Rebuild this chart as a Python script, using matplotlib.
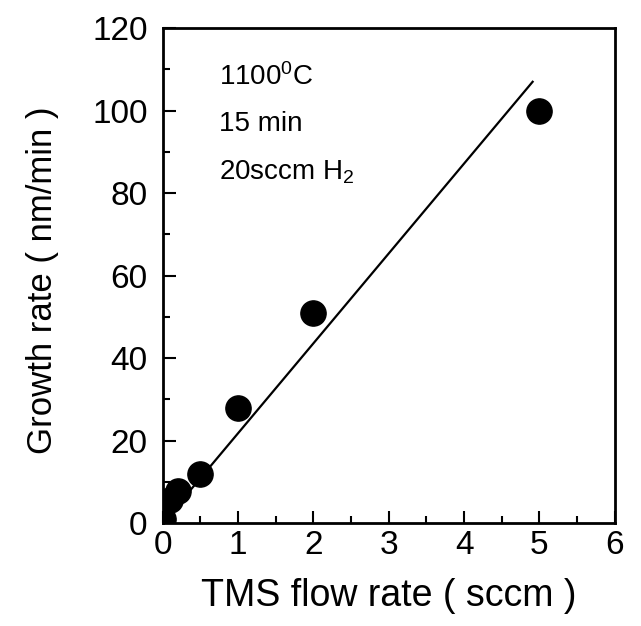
import matplotlib
matplotlib.use("Agg")
import matplotlib.pyplot as plt
from matplotlib.ticker import MultipleLocator

plt.rcParams['font.family'] = ['Liberation Sans', 'DejaVu Sans']
plt.rcParams['mathtext.fontset'] = 'custom'
plt.rcParams['mathtext.rm'] = 'Liberation Sans'
plt.rcParams['mathtext.it'] = 'Liberation Sans'

flow = [0.0, 0.1, 0.2, 0.5, 1.0, 2.0, 5.0]
growth = [1.0, 5.5, 7.8, 11.8, 27.8, 51.0, 100.0]
fit_x = [0.0, 4.91]
fit_y = [0.0, 107.0]

fig = plt.figure(figsize=(6.41, 6.26), dpi=100)
ax = fig.add_axes([0.254, 0.1645, 0.705, 0.7905])
ax.plot(fit_x, fit_y, color='black', lw=1.6, zorder=2)
ax.scatter(flow, growth, s=330, color='black', zorder=3, clip_on=True)

ax.set_xlim(0, 6)
ax.set_ylim(0, 120)
ax.xaxis.set_major_locator(MultipleLocator(1))
ax.xaxis.set_minor_locator(MultipleLocator(0.5))
ax.yaxis.set_major_locator(MultipleLocator(20))
ax.yaxis.set_minor_locator(MultipleLocator(10))
ax.tick_params(which='both', direction='in', top=False, right=False, width=1.5)
ax.tick_params(which='major', length=9, labelsize=24)
ax.tick_params(axis='x', which='major', pad=5)
ax.tick_params(axis='y', which='major', pad=11)
ax.tick_params(which='minor', length=5)
for s in ax.spines.values():
    s.set_linewidth(2)

ax.set_xlabel('TMS flow rate ( sccm )', fontsize=27)
ax.set_ylabel('Growth rate ( nm/min )', fontsize=25)
ax.xaxis.set_label_coords(0.5, -0.111)
ax.yaxis.set_label_coords(-0.23, 0.49)

ax.text(0.125, 0.901, '1100$^{0}$C', transform=ax.transAxes, fontsize=20, va='center')
ax.text(0.125, 0.806, '15 min', transform=ax.transAxes, fontsize=20, va='center')
ax.text(0.125, 0.709, '20sccm H$_{2}$', transform=ax.transAxes, fontsize=20, va='center')

fig.savefig('out.png', dpi=100)
